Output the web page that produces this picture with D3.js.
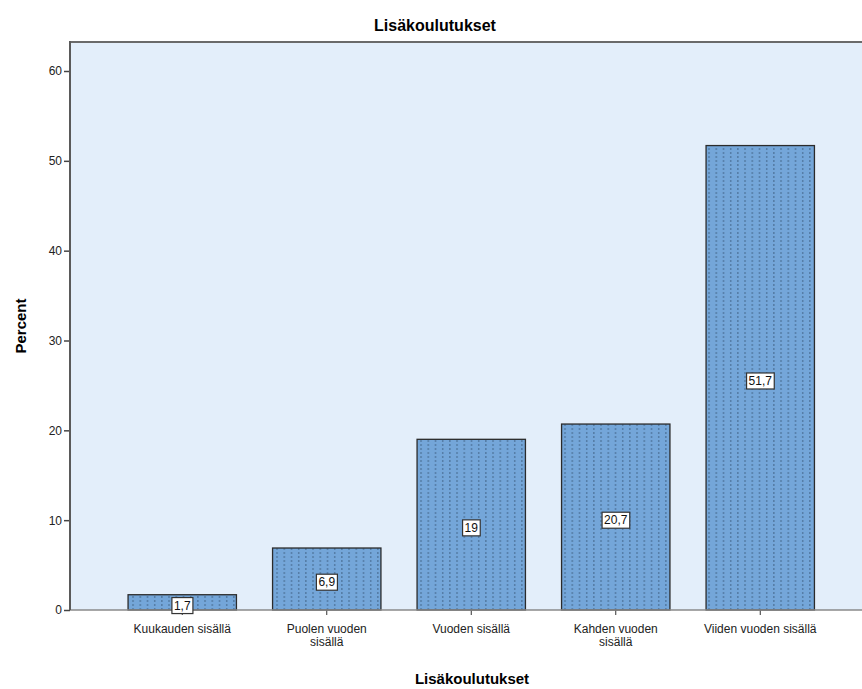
<!DOCTYPE html>
<html>
  <head>
    <meta charset="utf-8">
    <title>Lisäkoulutukset</title>
    <script src="https://d3js.org/d3.v7.min.js"></script>
    <style>
      body { margin: 0; background: #fff; }
      text { font-family: "Liberation Sans", Arial, sans-serif; }
    </style>
  </head>
  <body>
    <div id="graph"></div>
  </body>

  <script>
    // Data
    const categories = ["Kuukauden sisällä", "Puolen vuoden sisällä", "Vuoden sisällä", "Kahden vuoden sisällä", "Viiden vuoden sisällä"];
    const label_lines = [["Kuukauden sisällä"], ["Puolen vuoden", "sisällä"], ["Vuoden sisällä"], ["Kahden vuoden", "sisällä"], ["Viiden vuoden sisällä"]];
    const percents = [1.7, 6.9, 19, 20.7, 51.7];
    const value_labels = ["1,7", "6,9", "19", "20,7", "51,7"];
    const y_ticks = [0, 10, 20, 30, 40, 50, 60];

    const width = 862;
    const height = 689;
    const plot = ({left: 70, top: 42, right: 870, bottom: 610});

    let svg = d3.select("#graph").append("svg")
      .attr("width", width)
      .attr("height", height);

    // pattern of small dotted vertical lines inside the bars
    let defs = svg.append("defs");
    let pat = defs.append("pattern")
      .attr("id", "dots")
      .attr("patternUnits", "userSpaceOnUse")
      .attr("width", 7.2)
      .attr("height", 4);
    pat.append("rect").attr("width", 7.2).attr("height", 4).attr("fill", "#74a6d9");
    pat.append("rect").attr("x", 3).attr("y", 0).attr("width", 1).attr("height", 2).attr("fill", "#44678c");

    let x = d3.scaleBand()
      .domain(categories)
      .range([110, 832.5])
      .paddingInner(0.25)
      .paddingOuter(0.125);
    let y = d3.scaleLinear()
      .domain([0, 60])
      .range([plot.bottom, 71]);

    // plot background
    svg.append("rect")
      .attr("x", plot.left)
      .attr("y", plot.top)
      .attr("width", plot.right - plot.left)
      .attr("height", plot.bottom - plot.top)
      .attr("fill", "#e3eefa");

    // bars
    svg.append("g")
      .selectAll("rect")
      .data(percents)
      .enter()
      .append("rect")
      .attr("x", (d, i) => x(categories[i]))
      .attr("y", d => y(d))
      .attr("width", x.bandwidth())
      .attr("height", d => y(0) - y(d))
      .attr("fill", "url(#dots)")
      .attr("stroke", "#2b2b2b")
      .attr("stroke-width", 1.3);

    // frame line on top
    svg.append("line")
      .attr("x1", plot.left).attr("x2", width)
      .attr("y1", plot.top).attr("y2", plot.top)
      .attr("stroke", "#6a6a6a").attr("stroke-width", 2);

    // x axis
    let x_axis = d3.axisBottom(x).tickSize(5).tickFormat("");
    let gx = svg.append("g")
      .attr("transform", `translate(0, ${plot.bottom})`)
      .call(x_axis);
    gx.select(".domain").remove();
    gx.selectAll(".tick line").attr("stroke", "#333");
    svg.append("line")
      .attr("x1", plot.left).attr("x2", width)
      .attr("y1", plot.bottom).attr("y2", plot.bottom)
      .attr("stroke", "#8a8a8a").attr("stroke-width", 1.5);

    // category labels
    let cat_labels = svg.append("g").selectAll("text")
      .data(label_lines)
      .enter()
      .append("text")
      .attr("x", (d, i) => x(categories[i]) + x.bandwidth() / 2)
      .attr("y", 633)
      .attr("text-anchor", "middle")
      .style("font-size", "12px")
      .attr("fill", "#222");
    cat_labels.selectAll("tspan")
      .data(d => d)
      .enter()
      .append("tspan")
      .attr("x", function() { return d3.select(this.parentNode).attr("x"); })
      .attr("dy", (d, i) => i === 0 ? 0 : 13)
      .text(d => d);

    // y axis
    let y_axis = d3.axisLeft(y).tickValues(y_ticks).tickSize(6).tickPadding(2);
    let gy = svg.append("g")
      .attr("transform", `translate(${plot.left}, 0)`)
      .call(y_axis);
    gy.select(".domain").remove();
    gy.selectAll(".tick line").attr("stroke", "#444").attr("stroke-width", 1.5);
    gy.selectAll(".tick text")
      .style("font-size", "12px")
      .style("font-family", "'Liberation Sans', Arial, sans-serif")
      .attr("fill", "#222");
    svg.append("line")
      .attr("x1", plot.left).attr("x2", plot.left)
      .attr("y1", plot.top - 1).attr("y2", plot.bottom)
      .attr("stroke", "#5a5a5a").attr("stroke-width", 2);

    // value labels in white boxes
    let vl = svg.append("g").selectAll("g")
      .data(percents)
      .enter()
      .append("g")
      .attr("transform", (d, i) => `translate(${x(categories[i]) + x.bandwidth() / 2}, ${(y(0) + y(d)) / 2 + 3})`);
    vl.append("text")
      .attr("text-anchor", "middle")
      .attr("dy", "0.35em")
      .style("font-size", "12px")
      .attr("fill", "#111")
      .text((d, i) => value_labels[i]);
    vl.each(function() {
      const g = d3.select(this);
      const bb = g.select("text").node().getBBox();
      g.insert("rect", "text")
        .attr("x", bb.x - 2)
        .attr("y", bb.y - 1)
        .attr("width", bb.width + 4)
        .attr("height", bb.height + 2)
        .attr("fill", "#fff")
        .attr("stroke", "#333")
        .attr("stroke-width", 1.2);
    });

    // titles
    svg.append("text")
      .attr("x", 435)
      .attr("y", 31)
      .attr("text-anchor", "middle")
      .style("font-size", "16px")
      .style("font-weight", "bold")
      .text("Lisäkoulutukset");
    svg.append("text")
      .attr("x", 472)
      .attr("y", 684)
      .attr("text-anchor", "middle")
      .style("font-size", "15px")
      .style("font-weight", "bold")
      .text("Lisäkoulutukset");
    svg.append("text")
      .attr("transform", "translate(26, 326) rotate(-90)")
      .attr("text-anchor", "middle")
      .style("font-size", "15px")
      .style("font-weight", "bold")
      .text("Percent");
  </script>
</html>
